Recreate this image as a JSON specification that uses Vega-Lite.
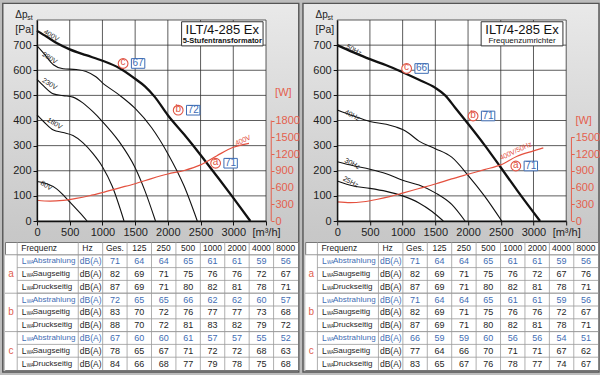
{
"$schema":"https://vega.github.io/schema/vega-lite/v6.json",
"background":"#bcbcbc",
"padding":{"left":2,"top":2,"right":1,"bottom":3},
"autosize":{"type":"pad"},
"config":{"font":"Liberation Sans","view":{"stroke":null},"axis":{"labelOverlap":false}},
"datasets":{
"gx":[{"v":0},{"v":500},{"v":1000},{"v":1500},{"v":2000},{"v":2500},{"v":3000},{"v":3500}],
"gy":[{"v":0},{"v":100},{"v":200},{"v":300},{"v":400},{"v":500},{"v":600},{"v":700},{"v":800}],
"curves":[
{"p":"L","s":"400V","q":0,"pa":757},{"p":"L","s":"400V","q":150,"pa":733},{"p":"L","s":"400V","q":300,"pa":708},{"p":"L","s":"400V","q":500,"pa":683},{"p":"L","s":"400V","q":750,"pa":660},{"p":"L","s":"400V","q":1000,"pa":638},{"p":"L","s":"400V","q":1250,"pa":610},{"p":"L","s":"400V","q":1500,"pa":566},{"p":"L","s":"400V","q":1650,"pa":536},{"p":"L","s":"400V","q":1800,"pa":494},{"p":"L","s":"400V","q":2000,"pa":421},{"p":"L","s":"400V","q":2250,"pa":344},{"p":"L","s":"400V","q":2500,"pa":263},{"p":"L","s":"400V","q":2750,"pa":178},{"p":"L","s":"400V","q":3000,"pa":92},{"p":"L","s":"400V","q":3260,"pa":0},
{"p":"L","s":"280V","q":0,"pa":697},{"p":"L","s":"280V","q":100,"pa":668},{"p":"L","s":"280V","q":250,"pa":622},{"p":"L","s":"280V","q":400,"pa":606},{"p":"L","s":"280V","q":600,"pa":603},{"p":"L","s":"280V","q":750,"pa":595},{"p":"L","s":"280V","q":900,"pa":574},{"p":"L","s":"280V","q":1000,"pa":550},{"p":"L","s":"280V","q":1250,"pa":503},{"p":"L","s":"280V","q":1500,"pa":448},{"p":"L","s":"280V","q":1750,"pa":372},{"p":"L","s":"280V","q":2000,"pa":268},{"p":"L","s":"280V","q":2250,"pa":138},{"p":"L","s":"280V","q":2450,"pa":0},
{"p":"L","s":"230V","q":0,"pa":564},{"p":"L","s":"230V","q":100,"pa":538},{"p":"L","s":"230V","q":250,"pa":506},{"p":"L","s":"230V","q":400,"pa":499},{"p":"L","s":"230V","q":550,"pa":493},{"p":"L","s":"230V","q":700,"pa":470},{"p":"L","s":"230V","q":850,"pa":436},{"p":"L","s":"230V","q":1000,"pa":396},{"p":"L","s":"230V","q":1250,"pa":318},{"p":"L","s":"230V","q":1500,"pa":212},{"p":"L","s":"230V","q":1650,"pa":120},{"p":"L","s":"230V","q":1811,"pa":0},
{"p":"L","s":"180V","q":0,"pa":422},{"p":"L","s":"180V","q":100,"pa":396},{"p":"L","s":"180V","q":250,"pa":362},{"p":"L","s":"180V","q":400,"pa":352},{"p":"L","s":"180V","q":550,"pa":340},{"p":"L","s":"180V","q":700,"pa":312},{"p":"L","s":"180V","q":850,"pa":270},{"p":"L","s":"180V","q":1000,"pa":216},{"p":"L","s":"180V","q":1150,"pa":138},{"p":"L","s":"180V","q":1330,"pa":0},
{"p":"L","s":"80V","q":0,"pa":157},{"p":"L","s":"80V","q":150,"pa":148},{"p":"L","s":"80V","q":300,"pa":128},{"p":"L","s":"80V","q":400,"pa":104},{"p":"L","s":"80V","q":500,"pa":76},{"p":"L","s":"80V","q":650,"pa":34},{"p":"L","s":"80V","q":765,"pa":0},
{"p":"R","s":"50Hz","q":0,"pa":700},{"p":"R","s":"50Hz","q":250,"pa":671},{"p":"R","s":"50Hz","q":500,"pa":644},{"p":"R","s":"50Hz","q":750,"pa":620},{"p":"R","s":"50Hz","q":1000,"pa":592},{"p":"R","s":"50Hz","q":1250,"pa":562},{"p":"R","s":"50Hz","q":1500,"pa":530},{"p":"R","s":"50Hz","q":1650,"pa":500},{"p":"R","s":"50Hz","q":1800,"pa":452},{"p":"R","s":"50Hz","q":2000,"pa":387},{"p":"R","s":"50Hz","q":2250,"pa":303},{"p":"R","s":"50Hz","q":2500,"pa":213},{"p":"R","s":"50Hz","q":2750,"pa":122},{"p":"R","s":"50Hz","q":3100,"pa":0},
{"p":"R","s":"40Hz","q":0,"pa":442},{"p":"R","s":"40Hz","q":250,"pa":418},{"p":"R","s":"40Hz","q":500,"pa":396},{"p":"R","s":"40Hz","q":750,"pa":385},{"p":"R","s":"40Hz","q":900,"pa":374},{"p":"R","s":"40Hz","q":1000,"pa":364},{"p":"R","s":"40Hz","q":1100,"pa":348},{"p":"R","s":"40Hz","q":1250,"pa":318},{"p":"R","s":"40Hz","q":1500,"pa":288},{"p":"R","s":"40Hz","q":1750,"pa":254},{"p":"R","s":"40Hz","q":2000,"pa":182},{"p":"R","s":"40Hz","q":2250,"pa":100},{"p":"R","s":"40Hz","q":2515,"pa":0},
{"p":"R","s":"30Hz","q":0,"pa":236},{"p":"R","s":"30Hz","q":250,"pa":220},{"p":"R","s":"30Hz","q":500,"pa":206},{"p":"R","s":"30Hz","q":750,"pa":188},{"p":"R","s":"30Hz","q":1000,"pa":162},{"p":"R","s":"30Hz","q":1250,"pa":143},{"p":"R","s":"30Hz","q":1500,"pa":112},{"p":"R","s":"30Hz","q":1750,"pa":66},{"p":"R","s":"30Hz","q":1954,"pa":0},
{"p":"R","s":"25Hz","q":0,"pa":159},{"p":"R","s":"25Hz","q":250,"pa":139},{"p":"R","s":"25Hz","q":500,"pa":130},{"p":"R","s":"25Hz","q":750,"pa":118},{"p":"R","s":"25Hz","q":1000,"pa":100},{"p":"R","s":"25Hz","q":1250,"pa":72},{"p":"R","s":"25Hz","q":1450,"pa":38},{"p":"R","s":"25Hz","q":1622,"pa":0}
],
"power":[
{"p":"L","q":0,"w":372},{"p":"L","q":200,"w":356},{"p":"L","q":400,"w":370},{"p":"L","q":600,"w":405},{"p":"L","q":800,"w":452},{"p":"L","q":1000,"w":510},{"p":"L","q":1250,"w":590},{"p":"L","q":1500,"w":668},{"p":"L","q":1750,"w":760},{"p":"L","q":2000,"w":842},{"p":"L","q":2250,"w":905},{"p":"L","q":2500,"w":1005},{"p":"L","q":2750,"w":1170},{"p":"L","q":3000,"w":1320},{"p":"L","q":3240,"w":1390},
{"p":"R","q":0,"w":342},{"p":"R","q":200,"w":328},{"p":"R","q":400,"w":345},{"p":"R","q":600,"w":385},{"p":"R","q":800,"w":437},{"p":"R","q":1000,"w":500},{"p":"R","q":1250,"w":582},{"p":"R","q":1500,"w":662},{"p":"R","q":1750,"w":755},{"p":"R","q":2000,"w":838},{"p":"R","q":2250,"w":920},{"p":"R","q":2500,"w":1005},{"p":"R","q":2750,"w":1160},{"p":"R","q":3000,"w":1255},{"p":"R","q":3150,"w":1310}
],
"labels":[
{"p":"L","t":"400V","q":218,"pa":738},{"p":"L","t":"280V","q":193,"pa":648},{"p":"L","t":"230V","q":193,"pa":545},{"p":"L","t":"180V","q":269,"pa":388},{"p":"L","t":"80V","q":142,"pa":140},
{"p":"R","t":"50Hz","q":255,"pa":680},{"p":"R","t":"40Hz","q":230,"pa":420},{"p":"R","t":"30Hz","q":230,"pa":228},{"p":"R","t":"25Hz","q":204,"pa":155}
],
"plabels":[{"p":"L","t":"400V","q":3150,"w":1440},{"p":"R","t":"400V/50Hz","q":2730,"w":1250}],
"ann":[
{"p":"L","l":"c","n":67,"q":1316,"pa":627},{"p":"L","l":"b","n":72,"q":2158,"pa":441},{"p":"L","l":"a","n":71,"q":2730,"pa":230},
{"p":"R","l":"c","n":66,"q":1061,"pa":607},{"p":"R","l":"b","n":71,"q":2077,"pa":418},{"p":"R","l":"a","n":71,"q":2730,"pa":219}
],
"tbl":[
{"p":"L","g":"a","r":"a1","typ":"Abstrahlung","hz":"dB(A)","Ges":71,"125":64,"250":64,"500":65,"1000":61,"2000":61,"4000":59,"8000":56},
{"p":"L","g":"a","r":"a2","typ":"Saugseitig","hz":"dB(A)","Ges":82,"125":69,"250":71,"500":75,"1000":76,"2000":76,"4000":72,"8000":67},
{"p":"L","g":"a","r":"a3","typ":"Druckseitig","hz":"dB(A)","Ges":87,"125":69,"250":71,"500":80,"1000":82,"2000":81,"4000":78,"8000":71},
{"p":"L","g":"b","r":"b1","typ":"Abstrahlung","hz":"dB(A)","Ges":72,"125":65,"250":65,"500":66,"1000":62,"2000":62,"4000":60,"8000":57},
{"p":"L","g":"b","r":"b2","typ":"Saugseitig","hz":"dB(A)","Ges":83,"125":70,"250":72,"500":76,"1000":77,"2000":77,"4000":73,"8000":68},
{"p":"L","g":"b","r":"b3","typ":"Druckseitig","hz":"dB(A)","Ges":88,"125":70,"250":72,"500":81,"1000":83,"2000":82,"4000":79,"8000":72},
{"p":"L","g":"c","r":"c1","typ":"Abstrahlung","hz":"dB(A)","Ges":67,"125":60,"250":60,"500":61,"1000":57,"2000":57,"4000":55,"8000":52},
{"p":"L","g":"c","r":"c2","typ":"Saugseitig","hz":"dB(A)","Ges":78,"125":65,"250":67,"500":71,"1000":72,"2000":72,"4000":68,"8000":63},
{"p":"L","g":"c","r":"c3","typ":"Druckseitig","hz":"dB(A)","Ges":84,"125":66,"250":68,"500":77,"1000":79,"2000":78,"4000":75,"8000":68},
{"p":"R","g":"a","r":"a1","typ":"Abstrahlung","hz":"dB(A)","Ges":71,"125":64,"250":64,"500":65,"1000":61,"2000":61,"4000":59,"8000":56},
{"p":"R","g":"a","r":"a2","typ":"Saugseitig","hz":"dB(A)","Ges":82,"125":69,"250":71,"500":75,"1000":76,"2000":72,"4000":67,"8000":76},
{"p":"R","g":"a","r":"a3","typ":"Druckseitig","hz":"dB(A)","Ges":87,"125":69,"250":71,"500":80,"1000":82,"2000":81,"4000":78,"8000":71},
{"p":"R","g":"b","r":"b1","typ":"Abstrahlung","hz":"dB(A)","Ges":71,"125":64,"250":64,"500":65,"1000":61,"2000":61,"4000":59,"8000":56},
{"p":"R","g":"b","r":"b2","typ":"Saugseitig","hz":"dB(A)","Ges":82,"125":69,"250":71,"500":75,"1000":76,"2000":76,"4000":72,"8000":67},
{"p":"R","g":"b","r":"b3","typ":"Druckseitig","hz":"dB(A)","Ges":87,"125":69,"250":71,"500":80,"1000":82,"2000":81,"4000":78,"8000":71},
{"p":"R","g":"c","r":"c1","typ":"Abstrahlung","hz":"dB(A)","Ges":66,"125":59,"250":59,"500":60,"1000":56,"2000":56,"4000":54,"8000":51},
{"p":"R","g":"c","r":"c2","typ":"Saugseitig","hz":"dB(A)","Ges":77,"125":64,"250":66,"500":70,"1000":71,"2000":71,"4000":67,"8000":62},
{"p":"R","g":"c","r":"c3","typ":"Druckseitig","hz":"dB(A)","Ges":83,"125":65,"250":67,"500":76,"1000":78,"2000":77,"4000":74,"8000":67}
],
"cols":[{"c":"F"},{"c":"Hz"},{"c":"Ges"},{"c":"125"},{"c":"250"},{"c":"500"},{"c":"1000"},{"c":"2000"},{"c":"4000"},{"c":"8000"}],
"hdrL":[{"c":"F","t":"Frequenz"},{"c":"Hz","t":"Hz"}],
"hdrC":[{"c":"Ges","t":"Ges."},{"c":"125","t":"125"},{"c":"250","t":"250"},{"c":"500","t":"500"},{"c":"1000","t":"1000"},{"c":"2000","t":"2000"},{"c":"4000","t":"4000"},{"c":"8000","t":"8000"}]
},
"spacing":2.2,
"hconcat":[
{"bounds":"flush","center":true,"spacing":21,"vconcat":[
{"width":229,"height":201,"view":{"stroke":null},
 "resolve":{"scale":{"y":"independent"},"axis":{"y":"independent"}},
 "layer":[
 {"layer":[
  {"data":{"values":[{}]},"mark":{"type":"rect","clip":false,"stroke":"#555","strokeWidth":1.4,"fill":{"gradient":"linear","x1":0,"y1":0,"x2":0,"y2":1,"stops":[{"offset":0,"color":"#e9e9e9"},{"offset":0.62,"color":"#c8c8c8"},{"offset":1,"color":"#c0c0c0"}]}},
   "encoding":{"x":{"datum":-523,"type":"quantitative","title":null,"scale":{"domain":[0,3500],"nice":false,"zero":false},"axis":{"values":[0,500,1000,1500,2000,2500,3000,3500],"tickCount":20,"format":"d","labelExpr":"datum.value==3500?'[m³/h]':datum.label","grid":false,"domainColor":"#111","domainWidth":1.3,"tickColor":"#111","tickSize":4,"labelColor":"#222","labelFontSize":11,"labelPadding":1,"labelFlush":false,"labelOverlap":false,"zindex":1,"title":null}},
   "x2":{"datum":4001},
   "y":{"datum":866,"type":"quantitative","title":null,"scale":{"domain":[0,800],"nice":false,"zero":false},"axis":{"values":[0,100,200,300,400,500,600,700],"tickCount":20,"format":"d","grid":false,"domainColor":"#111","domainWidth":1.3,"tickColor":"#111","tickSize":4,"labelColor":"#222","labelFontSize":11,"labelPadding":2,"labelOverlap":false,"zindex":1,"title":null}},
   "y2":{"datum":-601}}},
  {"data":{"values":[{}]},"mark":{"type":"rect","fill":"white"},"encoding":{"x":{"datum":0,"type":"quantitative","title":null},"x2":{"datum":3500},"y":{"datum":0,"type":"quantitative","title":null},"y2":{"datum":800}}},
  {"data":{"name":"gx"},"mark":{"type":"rule","color":"#333","strokeWidth":0.8},"encoding":{"x":{"field":"v","type":"quantitative","title":null}}},
  {"data":{"name":"gy"},"mark":{"type":"rule","color":"#333","strokeWidth":0.8},"encoding":{"y":{"field":"v","type":"quantitative","title":null}}},
  {"data":{"name":"curves"},"transform":[{"filter":"datum.p=='L'"}],"mark":{"type":"line","interpolate":"monotone","color":"#111"},"encoding":{"x":{"field":"q","type":"quantitative","title":null},"y":{"field":"pa","type":"quantitative","title":null},"detail":{"field":"s"},"strokeWidth":{"condition":{"test":"datum.s=='400V'","value":2.3},"value":1.1}}},
  {"data":{"name":"labels"},"transform":[{"filter":"datum.p=='L'"}],"mark":{"type":"text","angle":32,"fontSize":7,"color":"#222"},"encoding":{"x":{"field":"q","type":"quantitative","title":null},"y":{"field":"pa","type":"quantitative","title":null},"text":{"field":"t"}}},
  {"data":{"values":[{}]},"mark":{"type":"rect","fill":"white","stroke":"#333","strokeWidth":1},"encoding":{"x":{"datum":2210,"type":"quantitative","title":null},"x2":{"datum":3455},"y":{"datum":697,"type":"quantitative","title":null},"y2":{"datum":793}}},
  {"data":{"values":[{}]},"mark":{"type":"text","text":"ILT/4-285 Ex","fontSize":13,"color":"#111"},"encoding":{"x":{"datum":2832,"type":"quantitative","title":null},"y":{"datum":760,"type":"quantitative","title":null}}},
  {"data":{"values":[{}]},"mark":{"type":"text","text":"5-Stufentransformator","fontSize":7.5,"fontWeight":"bold","color":"#111"},"encoding":{"x":{"datum":2832,"type":"quantitative","title":null},"y":{"datum":715,"type":"quantitative","title":null}}},
  {"data":{"values":[{}]},"mark":{"type":"text","text":"Δp","align":"left","fontSize":10,"color":"#222"},"encoding":{"x":{"datum":-332,"type":"quantitative","title":null},"y":{"datum":821,"type":"quantitative","title":null}}},
  {"data":{"values":[{}]},"mark":{"type":"text","text":"st","align":"left","fontSize":7,"color":"#222"},"encoding":{"x":{"datum":-150,"type":"quantitative","title":null},"y":{"datum":808,"type":"quantitative","title":null}}},
  {"data":{"values":[{}]},"mark":{"type":"text","text":"[Pa]","align":"left","fontSize":10.5,"color":"#222"},"encoding":{"x":{"datum":-332,"type":"quantitative","title":null},"y":{"datum":759,"type":"quantitative","title":null}}},
  {"data":{"name":"ann"},"transform":[{"filter":"datum.p=='L'"}],"mark":{"type":"point","shape":"circle","filled":true,"fill":"white","stroke":"#e05545","strokeWidth":1.1,"size":95,"opacity":1},"encoding":{"x":{"field":"q","type":"quantitative","title":null},"y":{"field":"pa","type":"quantitative","title":null}}},
  {"data":{"name":"ann"},"transform":[{"filter":"datum.p=='L'"}],"mark":{"type":"text","fontSize":10,"color":"#e05545","dy":-1},"encoding":{"x":{"field":"q","type":"quantitative","title":null},"y":{"field":"pa","type":"quantitative","title":null},"text":{"field":"l"}}},
  {"data":{"name":"ann"},"transform":[{"filter":"datum.p=='L'"}],"mark":{"type":"point","shape":"M-1,-0.72L1,-0.72L1,0.72L-1,0.72Z","filled":true,"fill":"white","stroke":"#3d6cb4","strokeWidth":1,"size":180,"opacity":1,"xOffset":15},"encoding":{"x":{"field":"q","type":"quantitative","title":null},"y":{"field":"pa","type":"quantitative","title":null}}},
  {"data":{"name":"ann"},"transform":[{"filter":"datum.p=='L'"}],"mark":{"type":"text","fontSize":10,"color":"#3d6cb4","dx":15},"encoding":{"x":{"field":"q","type":"quantitative","title":null},"y":{"field":"pa","type":"quantitative","title":null},"text":{"field":"n"}}}
 ]},
 {"layer":[
  {"data":{"name":"power"},"transform":[{"filter":"datum.p=='L'"}],"mark":{"type":"line","interpolate":"monotone","color":"#e4513f","strokeWidth":1.2},"encoding":{"x":{"field":"q","type":"quantitative","title":null,"scale":{"domain":[0,3500],"nice":false,"zero":false}},"y":{"field":"w","type":"quantitative","title":null,"scale":{"domain":[0,3600],"nice":false,"zero":false},"axis":{"orient":"right","values":[0,300,600,900,1200,1500,1800],"tickCount":20,"format":"d","offset":5,"domain":false,"grid":false,"tickColor":"#e4604e","tickSize":3,"labelColor":"#e4604e","labelFontSize":11,"labelPadding":1,"labelOverlap":false,"zindex":1,"title":null}}}},
  {"data":{"values":[{}]},"mark":{"type":"rule","color":"#e4604e","strokeWidth":1,"clip":false},"encoding":{"x":{"datum":3580,"type":"quantitative","title":null},"y":{"datum":0,"type":"quantitative","title":null},"y2":{"datum":1800}}},
  {"data":{"values":[{}]},"mark":{"type":"text","text":"[W]","fontSize":11,"color":"#e4604e"},"encoding":{"x":{"datum":3765,"type":"quantitative","title":null},"y":{"datum":2292,"type":"quantitative","title":null}}},
  {"data":{"name":"plabels"},"transform":[{"filter":"datum.p=='L'"}],"mark":{"type":"text","angle":-25,"fontSize":7,"color":"#e4513f"},"encoding":{"x":{"field":"q","type":"quantitative","title":null},"y":{"field":"w","type":"quantitative","title":null},"text":{"field":"t"}}}
 ]}
 ]},
{"width":293,"height":128,"view":{"fill":"white","stroke":"#777","strokeWidth":1},
 "layer":[
  {"data":{"name":"tbl"},"transform":[{"filter":"datum.p=='L'"}],"mark":{"type":"rule","color":"#9a9a9a","strokeWidth":0.8},"encoding":{"y":{"field":"r","type":"nominal","bandPosition":0,"axis":null,"scale":{"type":"band","domain":["h","a1","a2","a3","b1","b2","b3","c1","c2","c3"],"paddingInner":0,"paddingOuter":0}}}},
  {"data":{"name":"tbl"},"transform":[{"filter":"datum.p=='L' && (datum.r=='a2'||datum.r=='b2'||datum.r=='c2')"}],"mark":{"type":"rect","fill":"white","height":{"band":3}},"encoding":{"x":{"datum":"lbl","type":"nominal","axis":null,"scale":{"type":"band","domain":["lbl","F","F2","F3","F4","F5","Hz","Hz2","Ges","Ges2","125","125b","250","250b","500","500b","1000","1000b","2000","2000b","4000","4000b","8000","8000b"],"paddingInner":0,"paddingOuter":0}},"y":{"field":"r","type":"nominal","axis":null}}},
  {"data":{"name":"tbl"},"transform":[{"filter":"datum.p=='L' && (datum.r=='a1'||datum.r=='b1'||datum.r=='c1')"}],"mark":{"type":"rule","color":"#9a9a9a","strokeWidth":0.8},"encoding":{"y":{"field":"r","type":"nominal","bandPosition":0,"axis":null}}},
  {"data":{"name":"cols"},"mark":{"type":"rule","color":"#9a9a9a","strokeWidth":0.8},"encoding":{"x":{"field":"c","type":"nominal","bandPosition":0,"axis":null}}},
  {"data":{"name":"hdrL"},"mark":{"type":"text","align":"left","dx":4,"fontSize":8.5,"color":"#222"},"encoding":{"x":{"field":"c","type":"nominal","bandPosition":0,"axis":null},"y":{"datum":"h","type":"nominal","axis":null},"text":{"field":"t"}}},
  {"data":{"name":"hdrC"},"mark":{"type":"text","align":"center","fontSize":8.5,"color":"#222"},"encoding":{"x":{"field":"c","type":"nominal","bandPosition":1,"axis":null},"y":{"datum":"h","type":"nominal","axis":null},"text":{"field":"t"}}},
  {"data":{"name":"tbl"},"transform":[{"filter":"datum.p=='L'"}],"mark":{"type":"text","text":"L","align":"left","dx":4.5,"fontSize":8.5},"encoding":{"x":{"datum":"F","type":"nominal","bandPosition":0,"axis":null},"y":{"field":"r","type":"nominal","axis":null},"color":{"condition":{"test":"datum.typ=='Abstrahlung'","value":"#3f6db3"},"value":"#1e1e1e"}}},
  {"data":{"name":"tbl"},"transform":[{"filter":"datum.p=='L'"}],"mark":{"type":"text","text":"WA","align":"left","dx":9.5,"dy":2,"fontSize":4.5},"encoding":{"x":{"datum":"F","type":"nominal","bandPosition":0,"axis":null},"y":{"field":"r","type":"nominal","axis":null},"color":{"condition":{"test":"datum.typ=='Abstrahlung'","value":"#3f6db3"},"value":"#1e1e1e"}}},
  {"data":{"name":"tbl"},"transform":[{"filter":"datum.p=='L'"}],"mark":{"type":"text","align":"left","dx":15.5,"fontSize":8},"encoding":{"x":{"datum":"F","type":"nominal","bandPosition":0,"axis":null},"y":{"field":"r","type":"nominal","axis":null},"text":{"field":"typ"},"color":{"condition":{"test":"datum.typ=='Abstrahlung'","value":"#3f6db3"},"value":"#1e1e1e"}}},
  {"data":{"name":"tbl"},"transform":[{"filter":"datum.p=='L'"}],"mark":{"type":"text","align":"left","dx":1.5,"fontSize":8.5},"encoding":{"x":{"datum":"Hz","type":"nominal","bandPosition":0,"axis":null},"y":{"field":"r","type":"nominal","axis":null},"text":{"field":"hz"},"color":{"condition":{"test":"datum.typ=='Abstrahlung'","value":"#3f6db3"},"value":"#1e1e1e"}}},
  {"data":{"name":"tbl"},"transform":[{"filter":"datum.p=='L'"},{"fold":["Ges","125","250","500","1000","2000","4000","8000"],"as":["c","v"]}],"mark":{"type":"text","align":"center","fontSize":9},"encoding":{"x":{"field":"c","type":"nominal","bandPosition":1,"axis":null},"y":{"field":"r","type":"nominal","axis":null},"text":{"field":"v"},"color":{"condition":{"test":"datum.typ=='Abstrahlung'","value":"#3f6db3"},"value":"#1e1e1e"}}},
  {"data":{"name":"tbl"},"transform":[{"filter":"datum.p=='L' && (datum.r=='a2'||datum.r=='b2'||datum.r=='c2')"}],"mark":{"type":"text","align":"center","fontSize":10,"color":"#e0604f"},"encoding":{"x":{"datum":"lbl","type":"nominal","bandPosition":0.5,"axis":null},"y":{"field":"r","type":"nominal","axis":null},"text":{"field":"g"}}}
 ]}
]},
{"bounds":"flush","center":true,"spacing":21,"vconcat":[
{"width":229,"height":201,"view":{"stroke":null},
 "resolve":{"scale":{"y":"independent"},"axis":{"y":"independent"}},
 "layer":[
 {"layer":[
  {"data":{"values":[{}]},"mark":{"type":"rect","clip":false,"stroke":"#555","strokeWidth":1.4,"fill":{"gradient":"linear","x1":0,"y1":0,"x2":0,"y2":1,"stops":[{"offset":0,"color":"#e9e9e9"},{"offset":0.62,"color":"#c8c8c8"},{"offset":1,"color":"#c0c0c0"}]}},
   "encoding":{"x":{"datum":-523,"type":"quantitative","title":null,"scale":{"domain":[0,3500],"nice":false,"zero":false},"axis":{"values":[0,500,1000,1500,2000,2500,3000,3500],"tickCount":20,"format":"d","labelExpr":"datum.value==3500?'[m³/h]':datum.label","grid":false,"domainColor":"#111","domainWidth":1.3,"tickColor":"#111","tickSize":4,"labelColor":"#222","labelFontSize":11,"labelPadding":1,"labelFlush":false,"labelOverlap":false,"zindex":1,"title":null}},
   "x2":{"datum":4001},
   "y":{"datum":866,"type":"quantitative","title":null,"scale":{"domain":[0,800],"nice":false,"zero":false},"axis":{"values":[0,100,200,300,400,500,600,700],"tickCount":20,"format":"d","grid":false,"domainColor":"#111","domainWidth":1.3,"tickColor":"#111","tickSize":4,"labelColor":"#222","labelFontSize":11,"labelPadding":2,"labelOverlap":false,"zindex":1,"title":null}},
   "y2":{"datum":-601}}},
  {"data":{"values":[{}]},"mark":{"type":"rect","fill":"white"},"encoding":{"x":{"datum":0,"type":"quantitative","title":null},"x2":{"datum":3500},"y":{"datum":0,"type":"quantitative","title":null},"y2":{"datum":800}}},
  {"data":{"name":"gx"},"mark":{"type":"rule","color":"#333","strokeWidth":0.8},"encoding":{"x":{"field":"v","type":"quantitative","title":null}}},
  {"data":{"name":"gy"},"mark":{"type":"rule","color":"#333","strokeWidth":0.8},"encoding":{"y":{"field":"v","type":"quantitative","title":null}}},
  {"data":{"name":"curves"},"transform":[{"filter":"datum.p=='R'"}],"mark":{"type":"line","interpolate":"monotone","color":"#111"},"encoding":{"x":{"field":"q","type":"quantitative","title":null},"y":{"field":"pa","type":"quantitative","title":null},"detail":{"field":"s"},"strokeWidth":{"condition":{"test":"datum.s=='50Hz'","value":2.3},"value":1.1}}},
  {"data":{"name":"labels"},"transform":[{"filter":"datum.p=='R'"}],"mark":{"type":"text","angle":28,"fontSize":7,"color":"#222"},"encoding":{"x":{"field":"q","type":"quantitative","title":null},"y":{"field":"pa","type":"quantitative","title":null},"text":{"field":"t"}}},
  {"data":{"values":[{}]},"mark":{"type":"rect","fill":"white","stroke":"#333","strokeWidth":1},"encoding":{"x":{"datum":2200,"type":"quantitative","title":null},"x2":{"datum":3450},"y":{"datum":697,"type":"quantitative","title":null},"y2":{"datum":793}}},
  {"data":{"values":[{}]},"mark":{"type":"text","text":"ILT/4-285 Ex","fontSize":13,"color":"#111"},"encoding":{"x":{"datum":2825,"type":"quantitative","title":null},"y":{"datum":760,"type":"quantitative","title":null}}},
  {"data":{"values":[{}]},"mark":{"type":"text","text":"Frequenzumrichter","fontSize":8,"color":"#111"},"encoding":{"x":{"datum":2825,"type":"quantitative","title":null},"y":{"datum":715,"type":"quantitative","title":null}}},
  {"data":{"values":[{}]},"mark":{"type":"text","text":"Δp","align":"left","fontSize":10,"color":"#222"},"encoding":{"x":{"datum":-332,"type":"quantitative","title":null},"y":{"datum":821,"type":"quantitative","title":null}}},
  {"data":{"values":[{}]},"mark":{"type":"text","text":"st","align":"left","fontSize":7,"color":"#222"},"encoding":{"x":{"datum":-150,"type":"quantitative","title":null},"y":{"datum":808,"type":"quantitative","title":null}}},
  {"data":{"values":[{}]},"mark":{"type":"text","text":"[Pa]","align":"left","fontSize":10.5,"color":"#222"},"encoding":{"x":{"datum":-332,"type":"quantitative","title":null},"y":{"datum":759,"type":"quantitative","title":null}}},
  {"data":{"name":"ann"},"transform":[{"filter":"datum.p=='R'"}],"mark":{"type":"point","shape":"circle","filled":true,"fill":"white","stroke":"#e05545","strokeWidth":1.1,"size":95,"opacity":1},"encoding":{"x":{"field":"q","type":"quantitative","title":null},"y":{"field":"pa","type":"quantitative","title":null}}},
  {"data":{"name":"ann"},"transform":[{"filter":"datum.p=='R'"}],"mark":{"type":"text","fontSize":10,"color":"#e05545","dy":-1},"encoding":{"x":{"field":"q","type":"quantitative","title":null},"y":{"field":"pa","type":"quantitative","title":null},"text":{"field":"l"}}},
  {"data":{"name":"ann"},"transform":[{"filter":"datum.p=='R'"}],"mark":{"type":"point","shape":"M-1,-0.72L1,-0.72L1,0.72L-1,0.72Z","filled":true,"fill":"white","stroke":"#3d6cb4","strokeWidth":1,"size":180,"opacity":1,"xOffset":15},"encoding":{"x":{"field":"q","type":"quantitative","title":null},"y":{"field":"pa","type":"quantitative","title":null}}},
  {"data":{"name":"ann"},"transform":[{"filter":"datum.p=='R'"}],"mark":{"type":"text","fontSize":10,"color":"#3d6cb4","dx":15},"encoding":{"x":{"field":"q","type":"quantitative","title":null},"y":{"field":"pa","type":"quantitative","title":null},"text":{"field":"n"}}}
 ]},
 {"layer":[
  {"data":{"name":"power"},"transform":[{"filter":"datum.p=='R'"}],"mark":{"type":"line","interpolate":"monotone","color":"#e4513f","strokeWidth":1.2},"encoding":{"x":{"field":"q","type":"quantitative","title":null,"scale":{"domain":[0,3500],"nice":false,"zero":false}},"y":{"field":"w","type":"quantitative","title":null,"scale":{"domain":[0,3600],"nice":false,"zero":false},"axis":{"orient":"right","values":[0,300,600,900,1200,1500],"tickCount":20,"format":"d","offset":5,"domain":false,"grid":false,"tickColor":"#e4604e","tickSize":3,"labelColor":"#e4604e","labelFontSize":11,"labelPadding":1,"labelOverlap":false,"zindex":1,"title":null}}}},
  {"data":{"values":[{}]},"mark":{"type":"rule","color":"#e4604e","strokeWidth":1,"clip":false},"encoding":{"x":{"datum":3580,"type":"quantitative","title":null},"y":{"datum":0,"type":"quantitative","title":null},"y2":{"datum":1500}}},
  {"data":{"values":[{}]},"mark":{"type":"text","text":"[W]","fontSize":11,"color":"#e4604e"},"encoding":{"x":{"datum":3767,"type":"quantitative","title":null},"y":{"datum":1791,"type":"quantitative","title":null}}},
  {"data":{"name":"plabels"},"transform":[{"filter":"datum.p=='R'"}],"mark":{"type":"text","angle":-25,"fontSize":7,"color":"#e4513f"},"encoding":{"x":{"field":"q","type":"quantitative","title":null},"y":{"field":"w","type":"quantitative","title":null},"text":{"field":"t"}}}
 ]}
 ]},
{"width":293,"height":128,"view":{"fill":"white","stroke":"#777","strokeWidth":1},
 "layer":[
  {"data":{"name":"tbl"},"transform":[{"filter":"datum.p=='R'"}],"mark":{"type":"rule","color":"#9a9a9a","strokeWidth":0.8},"encoding":{"y":{"field":"r","type":"nominal","bandPosition":0,"axis":null,"scale":{"type":"band","domain":["h","a1","a2","a3","b1","b2","b3","c1","c2","c3"],"paddingInner":0,"paddingOuter":0}}}},
  {"data":{"name":"tbl"},"transform":[{"filter":"datum.p=='R' && (datum.r=='a2'||datum.r=='b2'||datum.r=='c2')"}],"mark":{"type":"rect","fill":"white","height":{"band":3}},"encoding":{"x":{"datum":"lbl","type":"nominal","axis":null,"scale":{"type":"band","domain":["lbl","F","F2","F3","F4","F5","Hz","Hz2","Ges","Ges2","125","125b","250","250b","500","500b","1000","1000b","2000","2000b","4000","4000b","8000","8000b"],"paddingInner":0,"paddingOuter":0}},"y":{"field":"r","type":"nominal","axis":null}}},
  {"data":{"name":"tbl"},"transform":[{"filter":"datum.p=='R' && (datum.r=='a1'||datum.r=='b1'||datum.r=='c1')"}],"mark":{"type":"rule","color":"#9a9a9a","strokeWidth":0.8},"encoding":{"y":{"field":"r","type":"nominal","bandPosition":0,"axis":null}}},
  {"data":{"name":"cols"},"mark":{"type":"rule","color":"#9a9a9a","strokeWidth":0.8},"encoding":{"x":{"field":"c","type":"nominal","bandPosition":0,"axis":null}}},
  {"data":{"name":"hdrL"},"mark":{"type":"text","align":"left","dx":4,"fontSize":8.5,"color":"#222"},"encoding":{"x":{"field":"c","type":"nominal","bandPosition":0,"axis":null},"y":{"datum":"h","type":"nominal","axis":null},"text":{"field":"t"}}},
  {"data":{"name":"hdrC"},"mark":{"type":"text","align":"center","fontSize":8.5,"color":"#222"},"encoding":{"x":{"field":"c","type":"nominal","bandPosition":1,"axis":null},"y":{"datum":"h","type":"nominal","axis":null},"text":{"field":"t"}}},
  {"data":{"name":"tbl"},"transform":[{"filter":"datum.p=='R'"}],"mark":{"type":"text","text":"L","align":"left","dx":4.5,"fontSize":8.5},"encoding":{"x":{"datum":"F","type":"nominal","bandPosition":0,"axis":null},"y":{"field":"r","type":"nominal","axis":null},"color":{"condition":{"test":"datum.typ=='Abstrahlung'","value":"#3f6db3"},"value":"#1e1e1e"}}},
  {"data":{"name":"tbl"},"transform":[{"filter":"datum.p=='R'"}],"mark":{"type":"text","text":"WA","align":"left","dx":9.5,"dy":2,"fontSize":4.5},"encoding":{"x":{"datum":"F","type":"nominal","bandPosition":0,"axis":null},"y":{"field":"r","type":"nominal","axis":null},"color":{"condition":{"test":"datum.typ=='Abstrahlung'","value":"#3f6db3"},"value":"#1e1e1e"}}},
  {"data":{"name":"tbl"},"transform":[{"filter":"datum.p=='R'"}],"mark":{"type":"text","align":"left","dx":15.5,"fontSize":8},"encoding":{"x":{"datum":"F","type":"nominal","bandPosition":0,"axis":null},"y":{"field":"r","type":"nominal","axis":null},"text":{"field":"typ"},"color":{"condition":{"test":"datum.typ=='Abstrahlung'","value":"#3f6db3"},"value":"#1e1e1e"}}},
  {"data":{"name":"tbl"},"transform":[{"filter":"datum.p=='R'"}],"mark":{"type":"text","align":"left","dx":1.5,"fontSize":8.5},"encoding":{"x":{"datum":"Hz","type":"nominal","bandPosition":0,"axis":null},"y":{"field":"r","type":"nominal","axis":null},"text":{"field":"hz"},"color":{"condition":{"test":"datum.typ=='Abstrahlung'","value":"#3f6db3"},"value":"#1e1e1e"}}},
  {"data":{"name":"tbl"},"transform":[{"filter":"datum.p=='R'"},{"fold":["Ges","125","250","500","1000","2000","4000","8000"],"as":["c","v"]}],"mark":{"type":"text","align":"center","fontSize":9},"encoding":{"x":{"field":"c","type":"nominal","bandPosition":1,"axis":null},"y":{"field":"r","type":"nominal","axis":null},"text":{"field":"v"},"color":{"condition":{"test":"datum.typ=='Abstrahlung'","value":"#3f6db3"},"value":"#1e1e1e"}}},
  {"data":{"name":"tbl"},"transform":[{"filter":"datum.p=='R' && (datum.r=='a2'||datum.r=='b2'||datum.r=='c2')"}],"mark":{"type":"text","align":"center","fontSize":10,"color":"#e0604f"},"encoding":{"x":{"datum":"lbl","type":"nominal","bandPosition":0.5,"axis":null},"y":{"field":"r","type":"nominal","axis":null},"text":{"field":"g"}}}
 ]}
]}
]
}
